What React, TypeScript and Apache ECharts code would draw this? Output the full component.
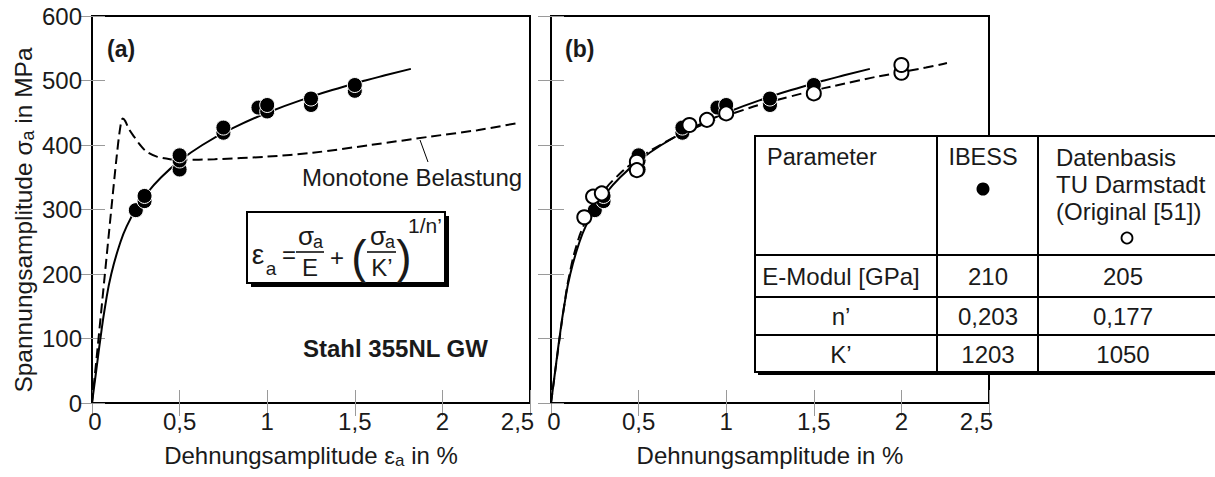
import React, { useEffect, useRef } from 'react';
import * as echarts from 'echarts';

// ---- Data ----
const xTickValues = [0, 0.5, 1, 1.5, 2, 2.5];
const yTickValues = [0, 100, 200, 300, 400, 500, 600];

// IBESS cyclic curve (solid)
const ibessCurveX = [0, 0.024, 0.048, 0.075, 0.11, 0.163, 0.2, 0.25, 0.313, 0.395, 0.499, 0.63, 0.796, 1.0, 1.253, 1.431, 1.56, 1.673, 1.82];
const ibessCurveY = [0, 50, 100, 150, 200, 250, 275, 300, 325, 350, 375, 400, 425, 450, 475, 490, 500, 508, 518];

// Monotone loading (dashed, panel a)
const monoX = [0, 0.03, 0.07, 0.11, 0.14, 0.16, 0.175, 0.19, 0.21, 0.24, 0.275, 0.31, 0.37, 0.445, 0.52, 0.7, 1.0, 1.26, 1.59, 1.93, 2.2, 2.43];
const monoY = [0, 80, 190, 300, 380, 425, 441, 437, 425, 413, 400, 390, 382, 378, 377, 378, 382, 388, 400, 413, 423, 434];

// TU Darmstadt curve (dashed, panel b)
const tudCurveX = [0, 0.049, 0.075, 0.106, 0.152, 0.186, 0.23, 0.291, 0.372, 0.481, 0.623, 0.81, 1.05, 1.363, 1.756, 1.94, 2.14, 2.26];
const tudCurveY = [0, 100, 150, 200, 250, 275, 300, 325, 350, 375, 400, 425, 450, 475, 500, 510, 520, 527];

// IBESS test points (filled)
const ibessPtX = [0.25, 0.3, 0.3, 0.5, 0.5, 0.5, 0.75, 0.75, 0.95, 1.0, 1.0, 1.25, 1.25, 1.5, 1.5];
const ibessPtY = [299, 313, 321, 362, 376, 384, 419, 427, 458, 452, 462, 462, 472, 484, 493];

// TU Darmstadt test points (open)
const tudPtX = [0.19, 0.24, 0.29, 0.49, 0.49, 0.79, 0.89, 1.0, 1.5, 2.0, 2.0];
const tudPtY = [288, 320, 325, 374, 361, 431, 439, 449, 480, 512, 524];

// Table
const tableHeader = ['Parameter', 'IBESS', 'Datenbasis', 'TU Darmstadt', '(Original [51])'];
const tableRows = [
  ['E-Modul [GPa]', '210', '205'],
  ['n\u2019', '0,203', '0,177'],
  ['K\u2019', '1203', '1050'],
];

const zip = (xs: number[], ys: number[]) => xs.map((x, i) => [x, ys[i]]);

const FONT = '"Liberation Sans", Arial, Helvetica, sans-serif';
const TXT = '#1a1a1a';
const TICK_FS = 24;

function makeAxes(grid: number, showY: boolean) {
  const xMin = xTickValues[0];
  const xMax = xTickValues[xTickValues.length - 1];
  const yMin = yTickValues[0];
  const yMax = yTickValues[yTickValues.length - 1];
  const fmt = (v: number) => {
    const s = String(v).replace('.', ',');
    if (v === xMax) return '{r|' + s + '}';
    if (v === xMin) return '{l|' + s + '}';
    return s;
  };
  const lbl = { fontSize: TICK_FS, color: TXT, fontFamily: FONT };
  const tick = { inside: true, length: 13, lineStyle: { color: '#9a9a9a', width: 1 } };
  const xs = [
    {
      gridIndex: grid, type: 'value', min: xMin, max: xMax, interval: 0.5, position: 'bottom',
      axisLine: { show: false }, axisTick: tick, splitLine: { show: false },
      axisLabel: {
        ...lbl, margin: 6, formatter: fmt,
        rich: { r: { ...lbl, padding: [0, 25, 0, 0] }, l: { ...lbl, padding: [0, 0, 0, 6] } },
      },
    },
    {
      gridIndex: grid, type: 'value', min: xMin, max: xMax, interval: 0.5, position: 'top',
      axisLine: { show: false }, axisTick: tick, splitLine: { show: false }, axisLabel: { show: false },
    },
  ];
  const ys = [
    {
      gridIndex: grid, type: 'value', min: yMin, max: yMax, interval: 100, position: 'left',
      axisLine: { show: false }, axisTick: tick, splitLine: { show: false },
      axisLabel: { show: showY, ...lbl, margin: 10 },
    },
    {
      gridIndex: grid, type: 'value', min: yMin, max: yMax, interval: 100, position: 'right',
      axisLine: { show: false }, axisTick: tick, splitLine: { show: false }, axisLabel: { show: false },
    },
  ];
  return { xs, ys };
}

function txt(x: number, y: number, text: string, size: number, align = 'center', extra: any = {}) {
  return {
    type: 'text', x, y, z: 102,
    style: {
      text, fill: TXT, fontSize: size, fontFamily: FONT,
      align, textAlign: align, verticalAlign: 'middle', textVerticalAlign: 'middle',
      ...extra,
    },
  };
}

export default function App() {
  const ref = useRef<HTMLDivElement>(null);

  useEffect(() => {
    if (!ref.current) return;
    const chart = echarts.init(ref.current, undefined, { renderer: 'svg' });
    const a = makeAxes(0, true);
    const b = makeAxes(1, false);

    const solid = { color: '#000', width: 2 };
    const dashed = { color: '#000', width: 2, type: [10, 5] };

    const richName = (fs: number) => ({
      m: { fontSize: fs, lineHeight: fs + 4, fill: TXT, fontFamily: FONT },
      s: { fontSize: Math.round(fs * 0.72), lineHeight: Math.round(fs * 0.62), verticalAlign: 'bottom', fill: TXT, fontFamily: FONT },
    });

    const graphics: any[] = [
      // panel labels
      txt(107, 49, '(a)', 23, 'left', { fontWeight: 'bold' }),
      txt(565, 49, '(b)', 23, 'left', { fontWeight: 'bold' }),
      txt(303, 348, 'Stahl 355NL GW', 24, 'left', { fontWeight: 'bold' }),
      txt(302, 177, 'Monotone Belastung', 24, 'left'),
      { type: 'line', z: 100, shape: { x1: 420, y1: 140, x2: 428, y2: 162 }, style: { stroke: '#000', lineWidth: 1 } },
      // axis names
      {
        type: 'text', x: 311, y: 455, z: 100,
        style: {
          text: '{m|Dehnungsamplitude \u03b5}{s|a}{m| in %}', rich: richName(24),
          align: 'center', textAlign: 'center', verticalAlign: 'middle', textVerticalAlign: 'middle',
        },
      },
      txt(770, 455, 'Dehnungsamplitude in %', 24, 'center'),
      {
        type: 'text', x: 23, y: 220, rotation: Math.PI / 2, z: 100,
        style: {
          text: '{m|Spannungsamplitude \u03c3}{s|a}{m| in MPa}', rich: richName(24.5),
          align: 'center', textAlign: 'center', verticalAlign: 'middle', textVerticalAlign: 'middle',
        },
      },
      // formula box
      { type: 'rect', z: 99, shape: { x: 251, y: 216, width: 198, height: 71 }, style: { fill: '#000' } },
      { type: 'rect', z: 100, shape: { x: 247, y: 212, width: 198, height: 71 }, style: { fill: '#fff', stroke: '#000', lineWidth: 2 } },
      txt(258, 254, '\u03b5', 28, 'center'),
      txt(271, 268, 'a', 19, 'center'),
      txt(289, 254, '=', 24, 'center'),
      { type: 'line', z: 101, shape: { x1: 296, y1: 252, x2: 324, y2: 252 }, style: { stroke: '#000', lineWidth: 1.5 } },
      txt(306, 236, '\u03c3', 26, 'center'),
      txt(318, 242, 'a', 18, 'center'),
      txt(310, 267, 'E', 24, 'center'),
      txt(337, 257, '+', 24, 'center'),
      txt(359, 257, '(', 46, 'center'),
      { type: 'line', z: 101, shape: { x1: 367, y1: 252, x2: 396, y2: 252 }, style: { stroke: '#000', lineWidth: 1.5 } },
      txt(378, 236, '\u03c3', 26, 'center'),
      txt(390, 242, 'a', 18, 'center'),
      txt(382, 267, 'K\u2019', 24, 'center'),
      txt(404, 257, ')', 46, 'center'),
      txt(408, 225, '1/n\u2019', 21, 'left'),
      // table
      { type: 'rect', z: 99, shape: { x: 758, y: 139, width: 470, height: 236 }, style: { fill: '#000' } },
      { type: 'rect', z: 100, shape: { x: 755, y: 136, width: 470, height: 236 }, style: { fill: '#fff', stroke: '#000', lineWidth: 2 } },
      { type: 'line', z: 101, shape: { x1: 937, y1: 136, x2: 937, y2: 372 }, style: { stroke: '#000', lineWidth: 2 } },
      { type: 'line', z: 101, shape: { x1: 1038, y1: 136, x2: 1038, y2: 372 }, style: { stroke: '#000', lineWidth: 2 } },
      { type: 'line', z: 101, shape: { x1: 755, y1: 255, x2: 1225, y2: 255 }, style: { stroke: '#000', lineWidth: 2 } },
      { type: 'line', z: 101, shape: { x1: 755, y1: 297, x2: 1225, y2: 297 }, style: { stroke: '#000', lineWidth: 2 } },
      { type: 'line', z: 101, shape: { x1: 755, y1: 335, x2: 1225, y2: 335 }, style: { stroke: '#000', lineWidth: 2 } },
      txt(767, 157, tableHeader[0], 23.5, 'left'),
      txt(983, 157, tableHeader[1], 23.5, 'center'),
      { type: 'circle', z: 101, shape: { cx: 983, cy: 189, r: 6.5 }, style: { fill: '#000' } },
      txt(1056, 157, tableHeader[2], 24, 'left'),
      txt(1056, 184, tableHeader[3], 24, 'left'),
      txt(1056, 211, tableHeader[4], 24, 'left'),
      { type: 'circle', z: 101, shape: { cx: 1127, cy: 238, r: 5.5 }, style: { fill: '#fff', stroke: '#000', lineWidth: 1.8 } },
    ];
    const rowY = [276, 316, 354];
    const colX = [841, 988, 1123];
    tableRows.forEach((row, ri) => {
      row.forEach((cell, ci) => graphics.push(txt(colX[ci], rowY[ri], cell, 24, 'center')));
    });

    chart.setOption({
      animation: false,
      backgroundColor: '#fff',
      textStyle: { fontFamily: FONT },
      grid: [
        { left: 92, top: 16, width: 438, height: 387, show: true, borderColor: '#000', borderWidth: 2, backgroundColor: 'transparent' },
        { left: 551, top: 16, width: 438, height: 387, show: true, borderColor: '#000', borderWidth: 2, backgroundColor: 'transparent' },
      ],
      xAxis: [...a.xs, ...b.xs],
      yAxis: [...a.ys, ...b.ys],
      series: [
        { type: 'line', xAxisIndex: 0, yAxisIndex: 0, data: zip(ibessCurveX, ibessCurveY), showSymbol: false, smooth: true, lineStyle: solid, z: 3 },
        { type: 'line', xAxisIndex: 0, yAxisIndex: 0, data: zip(monoX, monoY), showSymbol: false, smooth: 0.3, lineStyle: dashed, z: 3 },
        { type: 'scatter', xAxisIndex: 0, yAxisIndex: 0, data: zip(ibessPtX, ibessPtY), symbolSize: 15, itemStyle: { color: '#000', borderColor: '#fff', borderWidth: 1, opacity: 1 }, z: 4 },
        { type: 'line', xAxisIndex: 2, yAxisIndex: 2, data: zip(ibessCurveX, ibessCurveY), showSymbol: false, smooth: true, lineStyle: solid, z: 3 },
        { type: 'line', xAxisIndex: 2, yAxisIndex: 2, data: zip(tudCurveX, tudCurveY), showSymbol: false, smooth: true, lineStyle: dashed, z: 3 },
        { type: 'scatter', xAxisIndex: 2, yAxisIndex: 2, data: zip(ibessPtX, ibessPtY), symbolSize: 15, itemStyle: { color: '#000', borderColor: '#fff', borderWidth: 1, opacity: 1 }, z: 4 },
        { type: 'scatter', xAxisIndex: 2, yAxisIndex: 2, data: zip(tudPtX, tudPtY), symbolSize: 14, itemStyle: { color: '#fff', borderColor: '#000', borderWidth: 2, opacity: 1 }, z: 5 },
      ],
      graphic: graphics,
    });
    return () => chart.dispose();
  }, []);

  return <div ref={ref} style={{ position: 'fixed', left: 0, top: 0, width: 1215, height: 477, background: '#fff' }} />;
}
